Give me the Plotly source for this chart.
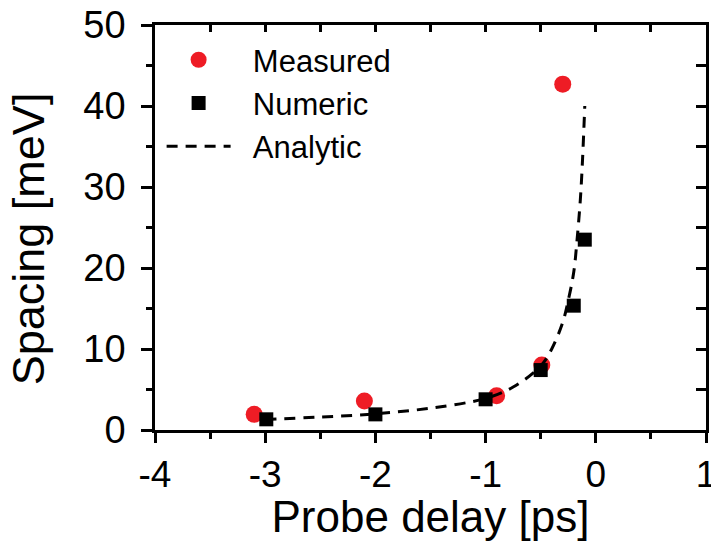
import plotly.graph_objects as go

# Measured data (red circles)
meas_x = [-3.10, -2.10, -0.90, -0.49, -0.30]
meas_y = [1.93, 3.58, 4.24, 8.02, 42.7]

# Numeric data (black squares)
num_x = [-2.99, -2.00, -1.00, -0.50, -0.20, -0.10]
num_y = [1.32, 1.93, 3.79, 7.40, 15.35, 23.5]

# Analytic curve (dashed)
ana_x = [-3.0, -2.5, -2.0, -1.5, -1.0, -0.75, -0.5, -0.4, -0.3, -0.25, -0.2, -0.17, -0.14, -0.12, -0.1]
ana_y = [1.3, 1.6, 2.0, 2.7, 3.9, 5.3, 7.9, 10.0, 13.3, 16.0, 19.5, 23.5, 28.5, 33.5, 40.0]

x_ticks = [-4, -3, -2, -1, 0, 1]
y_ticks = [0, 10, 20, 30, 40, 50]

FONT = "Arial, Liberation Sans, sans-serif"
SP = "\u00a0\u00a0"

fig = go.Figure()
fig.add_trace(go.Scatter(x=meas_x, y=meas_y, mode="markers", name=SP + "Measured",
                         marker=dict(symbol="circle", size=17, color="#ee1c25")))
fig.add_trace(go.Scatter(x=num_x, y=num_y, mode="markers", name=SP + "Numeric",
                         marker=dict(symbol="square", size=14, color="black")))
fig.add_trace(go.Scatter(x=ana_x, y=ana_y, mode="lines", name=SP + "Analytic",
                         line=dict(color="black", width=3, dash="11px,8px", shape="spline")))
# invisible trace to establish top/right mirror axes
fig.add_trace(go.Scatter(x=meas_x, y=meas_y, xaxis="x2", yaxis="y2", mode="markers",
                         marker=dict(opacity=0), showlegend=False, hoverinfo="skip"))

axis_common = dict(showgrid=False, zeroline=False, showline=True, linecolor="black",
                   linewidth=2.5, automargin=False)

fig.update_layout(
    width=711, height=541,
    margin=dict(l=155, r=5, t=25, b=111, autoexpand=False),
    plot_bgcolor="white", paper_bgcolor="white",
    font=dict(family=FONT, color="black"),
    showlegend=True,
    legend=dict(x=0.012, y=0.98, xanchor="left", yanchor="top",
                font=dict(family=FONT, size=31, color="black"),
                bgcolor="rgba(0,0,0,0)", itemwidth=64, tracegroupgap=0),
    xaxis=dict(range=[-4, 1], tickvals=x_ticks, ticktext=[str(v) for v in x_ticks],
               ticks="outside", ticklen=10, tickwidth=2.5, tickcolor="black",
               ticklabeloverflow="allow",
               minor=dict(dtick=0.5, ticks="outside", ticklen=6, tickwidth=2.5, tickcolor="black"),
               tickfont=dict(family=FONT, size=37, color="black"),
               title=dict(text="Probe delay [ps]", font=dict(family=FONT, size=44, color="black"),
                          standoff=6),
               **axis_common),
    yaxis=dict(range=[0, 50], tickvals=y_ticks, ticktext=[str(v) for v in y_ticks],
               ticks="outside", ticklen=11, tickwidth=2.5, tickcolor="black",
               ticklabelstandoff=8,
               minor=dict(dtick=5, ticks="outside", ticklen=6, tickwidth=2.5, tickcolor="black"),
               tickfont=dict(family=FONT, size=38, color="black"),
               **axis_common),
    xaxis2=dict(range=[-4, 1], overlaying="x", side="top", anchor="y2", matches="x",
                tickvals=x_ticks, showticklabels=False, ticks="inside", ticklen=7,
                tickwidth=2.5, tickcolor="black",
                minor=dict(dtick=0.5, ticks="inside", ticklen=7, tickwidth=2.5, tickcolor="black"),
                **axis_common),
    yaxis2=dict(range=[0, 50], overlaying="y", side="right", anchor="x2",
                tickvals=y_ticks, showticklabels=False, ticks="inside", ticklen=10,
                tickwidth=2.5, tickcolor="black",
                minor=dict(dtick=5, ticks="inside", ticklen=10, tickwidth=2.5, tickcolor="black"),
                **axis_common),
    annotations=[dict(text="Spacing [meV]", textangle=-90, xref="paper", yref="paper",
                      x=-0.230, y=0.4716, xanchor="center", yanchor="middle",
                      showarrow=False, font=dict(family=FONT, size=45, color="black"))],
)

fig.write_html("out.html")
